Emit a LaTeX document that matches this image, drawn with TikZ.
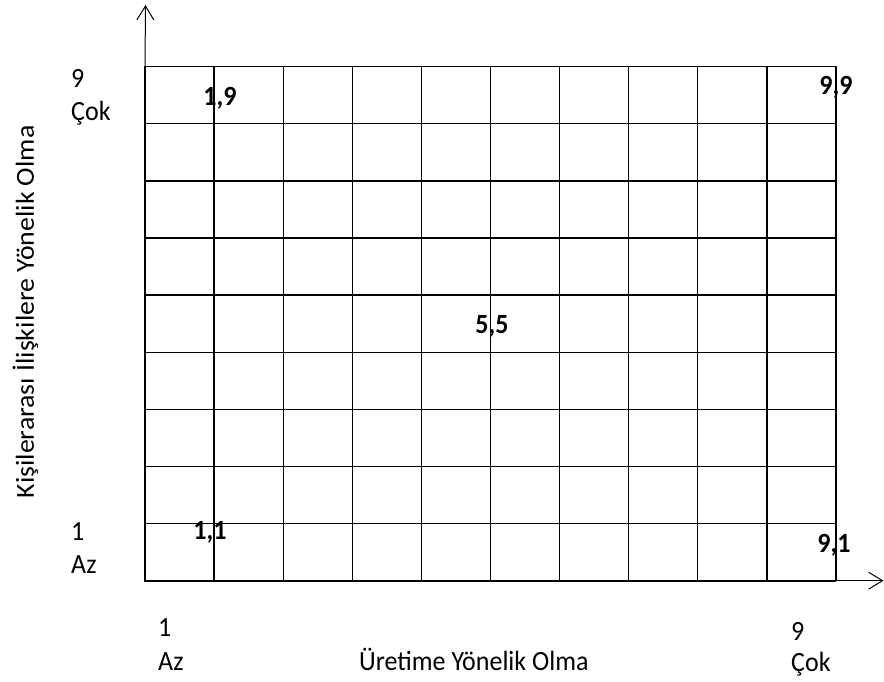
\documentclass[tikz,border=0pt]{standalone}
\usepackage{fontspec}
\usepackage{graphicx}
\setmainfont{Carlito}
\usetikzlibrary{arrows.meta}
\newcommand{\tall}[1]{\scalebox{1}[1.07]{#1}}
\tikzset{
  lbl/.style={anchor=base west, inner sep=0pt},
  val/.style={anchor=base, inner sep=0pt, font=\fontsize{26}{31}\selectfont\bfseries},
  cell/.style={line width=1.3pt},
}
\begin{document}
\begin{tikzpicture}[x=1pt, y=-1pt, >={Straight Barb[length=14pt,width=17pt]}, font=\fontsize{26}{31}\selectfont]
  \useasboundingbox (0,0) rectangle (884,682);
  \coordinate (ll) at (145,580.7);
  \coordinate (ur) at (836,66.7);
  \coordinate (ytip) at (145.5,5);
  \coordinate (xtip) at (883.5,580.7);
  % axes
  \draw[->, line width=1pt] (ll |- ur) -- (ytip);
  \draw[->, line width=1pt] (ur |- ll) -- (xtip);
  % grid
  \foreach \i in {1,...,9}
    \draw[cell] ({145+69.1*\i},66.7) -- ({145+69.1*\i},580.7);
  \foreach \j in {1,...,8}
    \draw[cell] (145,{66.7+57.11*\j}) -- (836,{66.7+57.11*\j});
  \draw[cell] (ll) rectangle (ur);
  \draw[line width=2pt] (ll |- ur) -- (ll) -- (ur |- ll);
  % values
  \node[val] (p19) at (220,106) {\tall{1,9}};
  \node[val] (p99) at (836,95) {\tall{9,9}};
  \node[val] (p55) at (492,333) {\tall{5,5}};
  \node[val] (p11) at (210,539) {\tall{1,1}};
  \node[val] (p91) at (834,552) {\tall{9,1}};
  % left scale
  \node[lbl] (ymax) at (71,88) {\tall{9}};
  \node[lbl] (ycok) at (71,121) {\tall{Çok}};
  \node[lbl] (ymin) at (71,540) {\tall{1}};
  \node[lbl] (yaz) at (71,573) {\tall{Az}};
  % bottom scale
  \node[lbl] (xmin) at (158,636) {\tall{1}};
  \node[lbl] (xaz) at (158,670) {\tall{Az}};
  \node[lbl] (xmax) at (791,640) {\tall{9}};
  \node[lbl] (xcok) at (791,671) {\tall{Çok}};
  % axis titles
  \node[lbl] (xtitle) at (359,670) {\tall{Üretime Yönelik Olma}};
  \node[anchor=base, inner sep=0pt, rotate=90] (ytitle) at (34,312) {\scalebox{1.07}[1]{Kişilerarası İlişkilere Yönelik Olma}};
\end{tikzpicture}
\end{document}
